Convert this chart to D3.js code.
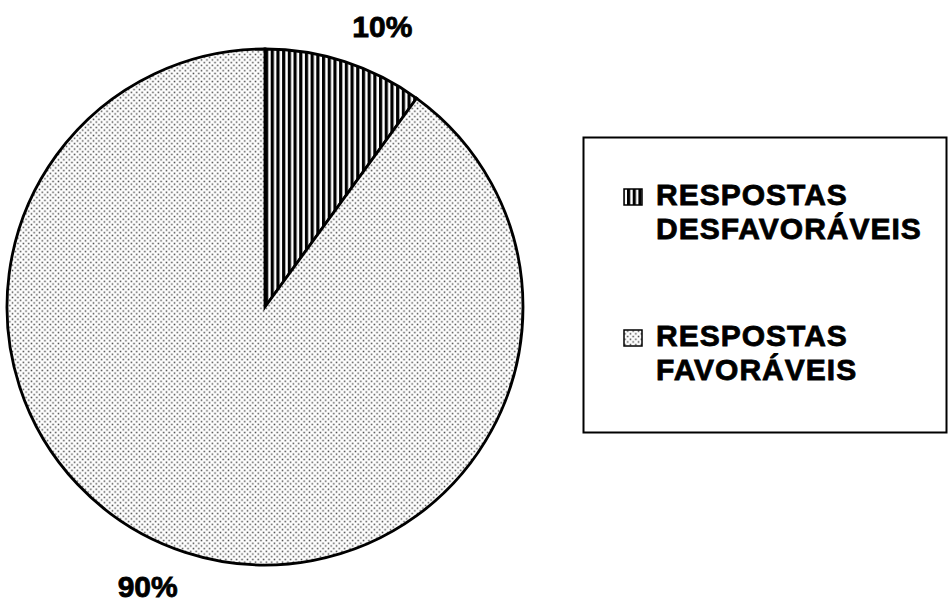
<!DOCTYPE html>
<html>
<head>
<meta charset="utf-8">
<script src="https://cdn.jsdelivr.net/npm/d3@7"></script>
<style>
  body { margin: 0; background: #fff; }
  text { font-family: "Liberation Sans", Arial, sans-serif; font-weight: bold; fill: #000; stroke: #000; stroke-width: 0.8px; }
</style>
</head>
<body>
<div id="chart"></div>
<script>
// data
var categories = ["RESPOSTAS DESFAVORÁVEIS", "RESPOSTAS FAVORÁVEIS"];
var legendLines = [["RESPOSTAS", "DESFAVORÁVEIS"], ["RESPOSTAS", "FAVORÁVEIS"]];
var values = [10, 90];
var pctLabels = ["10%", "90%"];
var patterns = ["stripes", "dots"];

var width = 948, height = 605;
var cx = 265, cy = 307, r = 258;

var svg = d3.select("#chart").append("svg")
  .attr("width", width)
  .attr("height", height);

var defs = svg.append("defs");

// vertical stripes
var ps = defs.append("pattern")
  .attr("id", "stripes")
  .attr("patternUnits", "userSpaceOnUse")
  .attr("width", 5.7).attr("height", 10);
ps.append("rect").attr("width", 5.7).attr("height", 10).attr("fill", "#fff");
ps.append("rect").attr("width", 3.2).attr("height", 10).attr("fill", "#000");

// small dots
var pd = defs.append("pattern")
  .attr("id", "dots")
  .attr("patternUnits", "userSpaceOnUse")
  .attr("width", 5.4).attr("height", 5.4);
pd.append("rect").attr("width", 5.4).attr("height", 5.4).attr("fill", "#fff");
pd.append("rect").attr("x", 0.6).attr("y", 0.6).attr("width", 1.5).attr("height", 1.5).attr("fill", "#444");
pd.append("rect").attr("x", 3.3).attr("y", 3.3).attr("width", 1.5).attr("height", 1.5).attr("fill", "#444");

var pie = d3.pie().sort(null).value(function(d) { return d; });
var arcs = pie(values);

var arc = d3.arc().innerRadius(0).outerRadius(r);

var g = svg.append("g").attr("transform", "translate(" + cx + "," + cy + ")");

g.selectAll("path")
  .data(arcs)
  .enter().append("path")
  .attr("d", arc)
  .attr("fill", function(d, i) { return "url(#" + patterns[i] + ")"; })
  .attr("stroke", "#000")
  .attr("stroke-width", 2.8)
  .attr("stroke-linejoin", "miter");

// percentage labels outside the pie
var labelR = 304;
g.selectAll("text.pct")
  .data(arcs)
  .enter().append("text")
  .attr("class", "pct")
  .attr("text-anchor", "middle")
  .style("font-size", "30px")
  .attr("x", function(d) {
    var a = (d.startAngle + d.endAngle) / 2 + 0.082;
    return Math.sin(a) * labelR;
  })
  .attr("y", function(d) {
    var a = (d.startAngle + d.endAngle) / 2 + 0.082;
    return -Math.cos(a) * labelR + 10;
  })
  .text(function(d, i) { return pctLabels[i]; });

// legend
var legend = svg.append("g");
legend.append("rect")
  .attr("x", 583.5).attr("y", 137.5)
  .attr("width", 363).attr("height", 295)
  .attr("fill", "#fff")
  .attr("stroke", "#000")
  .attr("stroke-width", 2);

var entryY = [205, 346];
var item = legend.selectAll("g.item")
  .data(categories)
  .enter().append("g")
  .attr("class", "item")
  .attr("transform", function(d, i) { return "translate(0," + entryY[i] + ")"; });

item.append("rect")
  .attr("x", 624).attr("y", -16)
  .attr("width", 18).attr("height", 16)
  .attr("fill", function(d, i) { return "url(#" + patterns[i] + ")"; })
  .attr("stroke", "#000")
  .attr("stroke-width", 1.5);

item.append("text")
  .style("font-size", "30px")
  .style("letter-spacing", "1px")
  .selectAll("tspan")
  .data(function(d, i) { return legendLines[i]; })
  .enter().append("tspan")
  .attr("x", 656)
  .attr("y", function(d, j) { return j * 34; })
  .text(function(d) { return d; });
</script>
</body>
</html>
